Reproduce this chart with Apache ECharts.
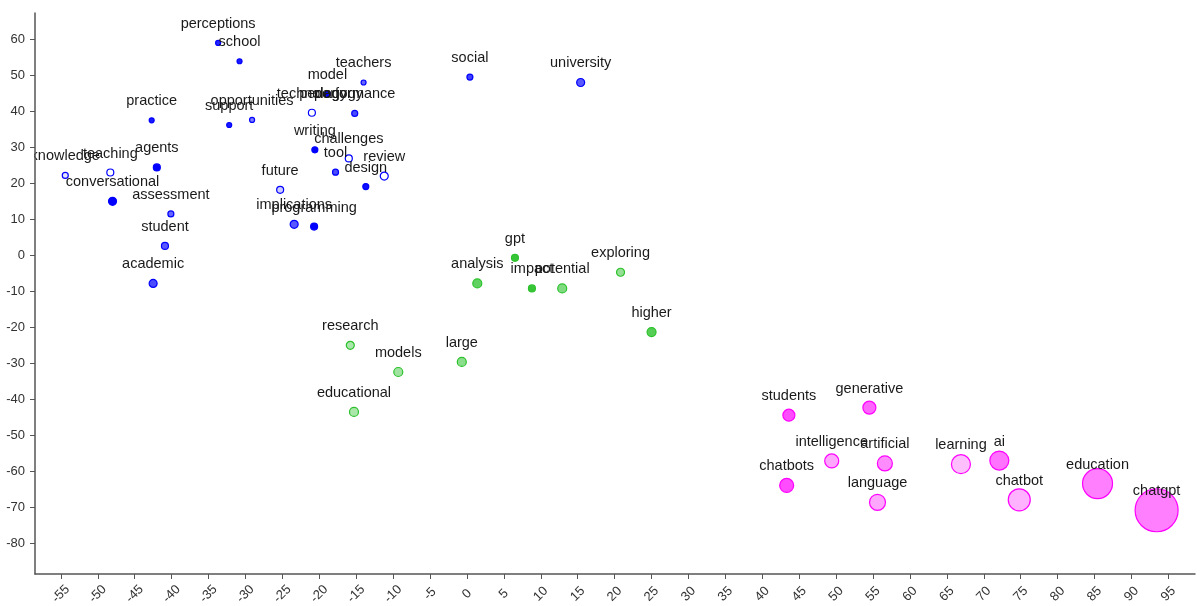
<!DOCTYPE html>
<html>
<head>
<meta charset="utf-8">
<script src="https://cdn.jsdelivr.net/npm/echarts@6/dist/echarts.min.js"></script>
<style>
  html, body { margin: 0; padding: 0; background: #fff; }
  #main { width: 1200px; height: 606px; }
</style>
</head>
<body>
<div id="main"></div>
<script>
// tick labels
var xTicks = [-55, -50, -45, -40, -35, -30, -25, -20, -15, -10, -5, 0, 5, 10, 15, 20, 25, 30, 35, 40, 45, 50, 55, 60, 65, 70, 75, 80, 85, 90, 95];
var yTicks = [-80, -70, -60, -50, -40, -30, -20, -10, 0, 10, 20, 30, 40, 50, 60];

// cluster 1 (blue)
var blueWords = ['perceptions', 'school', 'teachers', 'model', 'pedagogy', 'technology', 'performance', 'practice', 'support', 'opportunities',
  'writing', 'challenges', 'tool', 'review', 'design', 'knowledge', 'teaching', 'agents', 'conversational', 'assessment',
  'student', 'academic', 'future', 'implications', 'programming', 'social', 'university'];
var blueX = [-33.7, -30.8, -14.0, -18.9, -18.4, -21.0, -15.2, -42.7, -32.2, -29.1,
  -20.6, -16.0, -17.8, -11.2, -13.7, -54.4, -48.3, -42.0, -48.0, -40.1,
  -40.9, -42.5, -25.3, -23.4, -20.7, 0.4, 15.4];
var blueY = [58.9, 53.8, 47.9, 44.7, 39.4, 39.5, 39.3, 37.4, 36.1, 37.5,
  29.2, 26.8, 23.0, 21.9, 19.0, 22.1, 22.9, 24.3, 14.9, 11.4,
  2.5, -7.9, 18.1, 8.5, 7.9, 49.4, 47.9];
var blueWeight = [5, 5, 5, 6, 6, 7, 6, 5, 5, 5,
  6, 7, 6, 8, 6, 6, 7, 7, 8, 6,
  7, 8, 7, 8, 7, 6, 8];
var blueShade = [0.85, 0.9, 0.6, 1, 0, 0, 0.7, 0.9, 0.9, 0.5,
  1, 0, 0.7, 0, 0.95, 0.1, 0, 1, 1, 0.6,
  0.65, 0.7, 0.2, 0.65, 1, 0.75, 0.65];

// cluster 2 (green)
var greenWords = ['gpt', 'analysis', 'impact', 'potential', 'exploring', 'research', 'models', 'large', 'educational', 'higher'];
var greenX = [6.5, 1.4, 8.8, 12.9, 20.8, -15.8, -9.3, -0.7, -15.3, 25.0];
var greenY = [-0.8, -7.9, -9.3, -9.3, -4.8, -25.1, -32.5, -29.7, -43.6, -21.4];
var greenWeight = [7, 9, 7, 9, 8, 8, 9, 9, 9, 9];
var greenShade = [0.95, 0.75, 0.95, 0.6, 0.5, 0.4, 0.45, 0.55, 0.4, 0.8];

// cluster 3 (pink)
var pinkWords = ['students', 'generative', 'intelligence', 'artificial', 'learning', 'ai', 'chatbots', 'language', 'chatbot', 'education', 'chatgpt'];
var pinkX = [43.6, 54.5, 49.4, 56.6, 66.9, 72.1, 43.3, 55.6, 74.8, 85.4, 93.4];
var pinkY = [-44.5, -42.4, -57.2, -57.9, -58.1, -57.1, -64.0, -68.7, -68.0, -63.5, -70.9];
var pinkWeight = [12, 13, 14, 15, 19, 19, 14, 16, 22, 30, 43];
var pinkShade = [0.7, 0.6, 0.35, 0.45, 0.25, 0.55, 0.7, 0.35, 0.3, 0.5, 0.5];

function rgba(hex, a) {
  var r = parseInt(hex.substr(1, 2), 16), g = parseInt(hex.substr(3, 2), 16), b = parseInt(hex.substr(5, 2), 16);
  return 'rgba(' + r + ',' + g + ',' + b + ',' + a + ')';
}

function cluster(words, xs, ys, weights, shades, color) {
  var data = words.map(function (w, i) {
    var hidden = w === 'pedagogy'; // its dot is not visible in the picture
    return {
      name: w,
      value: [xs[i], ys[i]],
      symbolSize: weights[i],
      itemStyle: {
        color: hidden ? 'rgba(0,0,0,0)' : rgba(color, shades[i]),
        borderColor: hidden ? 'rgba(0,0,0,0)' : color
      }
    };
  });
  return {
    type: 'scatter',
    data: data,
    itemStyle: { borderWidth: 1.2, opacity: 1 },
    label: {
      show: true,
      position: 'inside',
      offset: [0, -19],
      formatter: '{b}',
      color: '#1a1a1a',
      fontSize: 14.5,
      fontFamily: 'Liberation Sans, Arial, sans-serif'
    },
    emphasis: { disabled: true }
  };
}

var chart = echarts.init(document.getElementById('main'));
var axisColor = '#555';
chart.setOption({
  animation: false,
  grid: { left: 35, right: 5, top: 13, bottom: 32, containLabel: false, outerBoundsMode: 'none' },
  xAxis: {
    type: 'value',
    min: -58.5,
    max: 98.6,
    axisLine: { show: true, onZero: false, lineStyle: { color: axisColor, width: 1.5 } },
    axisTick: { show: true, customValues: xTicks, length: 5, lineStyle: { color: axisColor } },
    axisLabel: {
      customValues: xTicks,
      rotate: 45,
      align: 'center',
      verticalAlign: 'middle',
      margin: 20,
      color: '#333',
      fontSize: 13,
      fontFamily: 'Liberation Sans, Arial, sans-serif'
    },
    splitLine: { show: false }
  },
  yAxis: {
    type: 'value',
    min: -88.6,
    max: 67.2,
    z: 10,
    axisLine: { show: true, onZero: false, lineStyle: { color: axisColor, width: 1.5 } },
    axisTick: { show: true, customValues: yTicks, length: 5, lineStyle: { color: axisColor } },
    axisLabel: {
      customValues: yTicks,
      color: '#333',
      fontSize: 13,
      margin: 10,
      fontFamily: 'Liberation Sans, Arial, sans-serif'
    },
    splitLine: { show: false }
  },
  graphic: [{
    type: 'rect',
    z: 5,
    shape: { x: 0, y: 148, width: 34, height: 20 },
    style: { fill: '#fff' }
  }],
  series: [
    cluster(blueWords, blueX, blueY, blueWeight, blueShade, '#0000ff'),
    cluster(greenWords, greenX, greenY, greenWeight, greenShade, '#2cc22c'),
    cluster(pinkWords, pinkX, pinkY, pinkWeight, pinkShade, '#ff00ff')
  ]
});
</script>
</body>
</html>
